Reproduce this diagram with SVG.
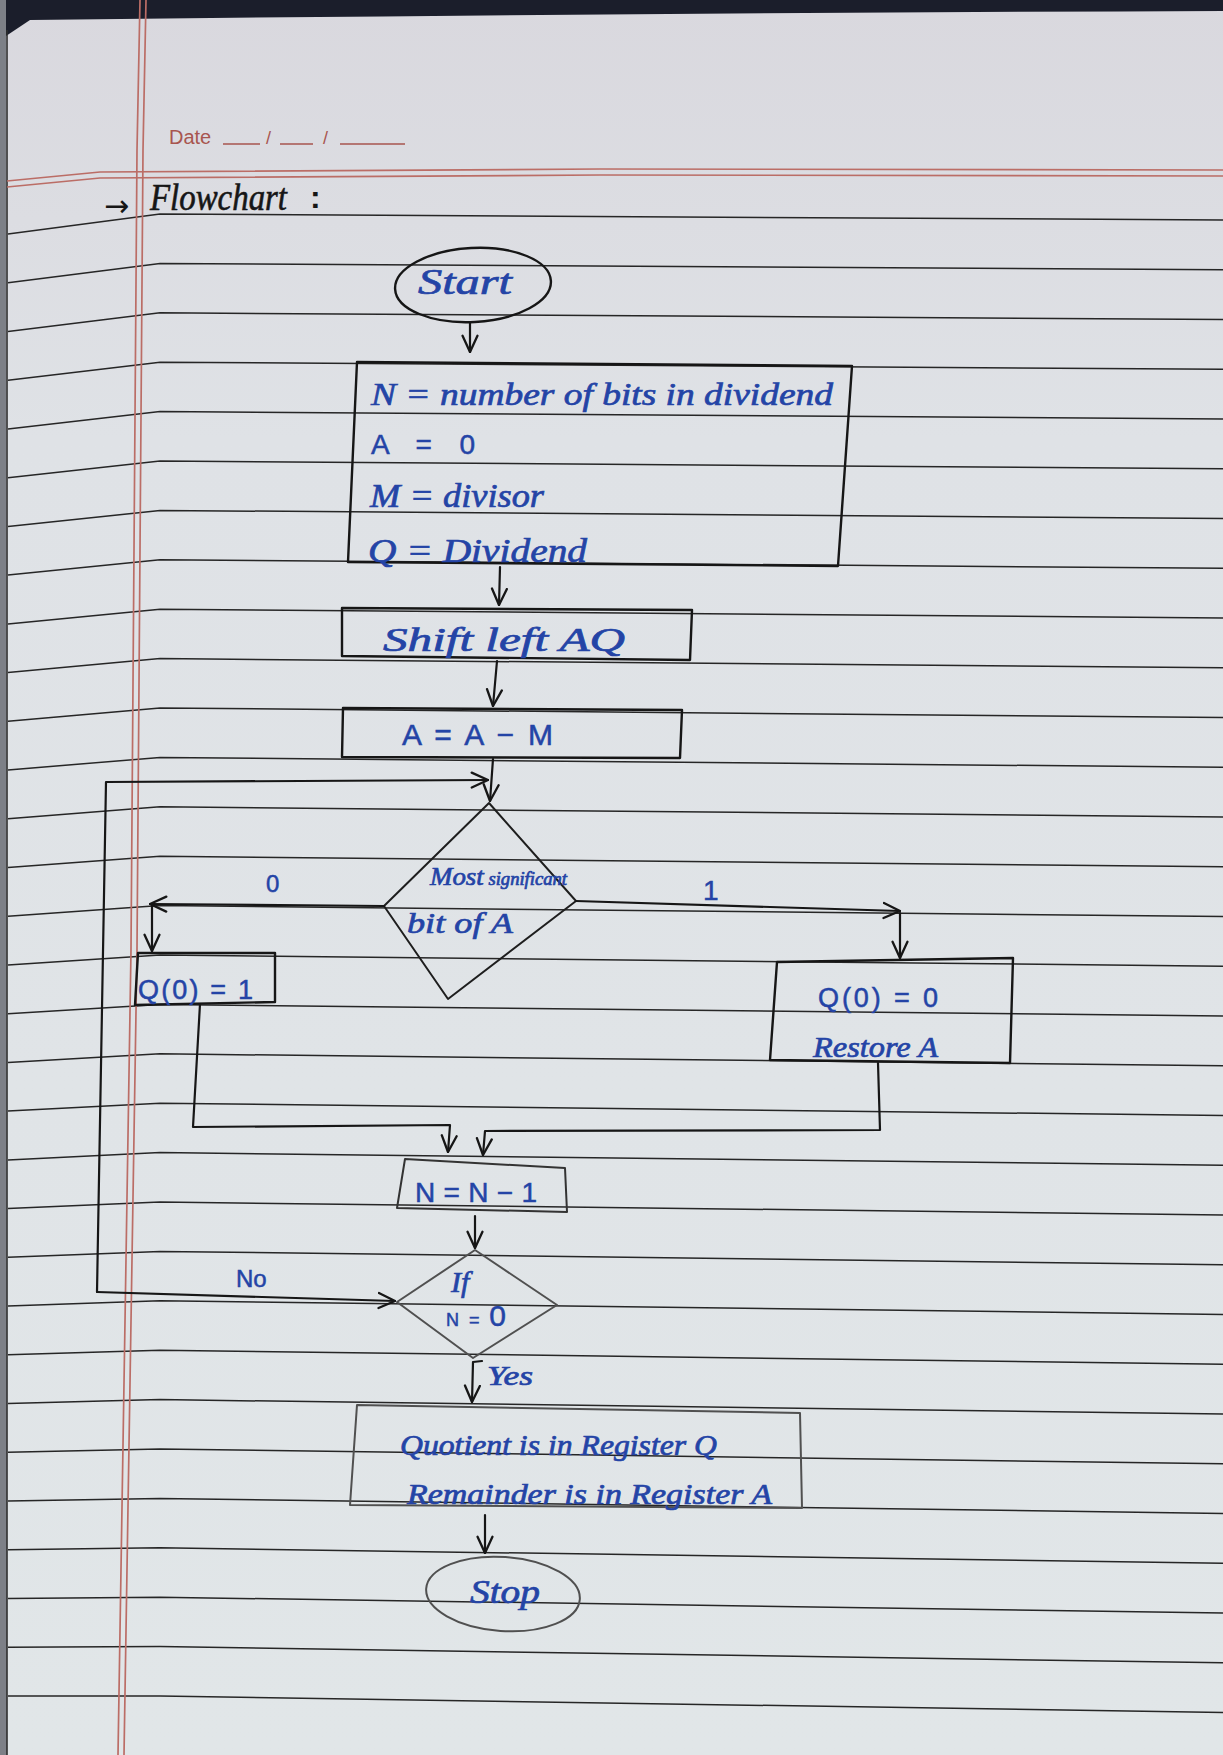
<svg xmlns="http://www.w3.org/2000/svg" width="1223" height="1755" viewBox="0 0 1223 1755">
<defs>
<linearGradient id="paper" x1="0" y1="0" x2="0" y2="1">
<stop offset="0" stop-color="#d9d8de"/>
<stop offset="0.25" stop-color="#dfe2e6"/>
<stop offset="1" stop-color="#e1e6e8"/>
</linearGradient>
<marker id="arr" viewBox="0 0 14 14" refX="13" refY="7" markerWidth="19" markerHeight="19" markerUnits="userSpaceOnUse" orient="auto">
<path d="M1,1.5 L13,7 L1,12.5" fill="none" stroke="#161616" stroke-width="1.7" stroke-linecap="round" stroke-linejoin="round"/>
</marker>
<style>
.rule{stroke:#262626;stroke-width:1.5;fill:none}
.red{stroke:#bb6d66;stroke-width:1.7;fill:none}
.box{fill:none;stroke:#161616;stroke-width:2.4;stroke-linejoin:round}
.pen{fill:none;stroke:#1e1e1e;stroke-width:2;stroke-linejoin:round}
.gbox{fill:none;stroke:#505050;stroke-width:2;stroke-linejoin:round}
.hand{fill:#2444a6;stroke:#2444a6;stroke-width:0.7;font-family:"Liberation Serif",serif;font-style:italic}
.print{fill:#2444a6;stroke:#2444a6;stroke-width:0.5;font-family:"Liberation Sans",sans-serif}
.conn{fill:none;stroke:#161616;stroke-width:2.2;stroke-linejoin:round;stroke-linecap:round}
</style>
</defs>

<!-- paper -->
<rect x="0" y="0" width="1223" height="1755" fill="url(#paper)"/>
<path d="M0,0 H1223 V11 Q620,13 30,20 L0,40 Z" fill="#1b1e2b"/>
<path d="M0,0 H6 L7,1755 H0 Z" fill="#7d8087"/>
<path d="M7,30 L7,1755" stroke="#2e2e2e" stroke-width="1.6"/>

<!-- ruled lines -->
<g id="ruled-lines" class="rule">
<polyline points="8,234 160,214 1223,220"/>
<polyline points="8,282.7 160,263.4 1223,269.8"/>
<polyline points="8,331.5 160,312.8 1223,319.5"/>
<polyline points="8,380.2 160,362.2 1223,369.3"/>
<polyline points="8,428.9 160,411.6 1223,419"/>
<polyline points="8,477.7 160,461 1223,468.8"/>
<polyline points="8,526.4 160,510.4 1223,518.5"/>
<polyline points="8,575.1 160,559.8 1223,568.3"/>
<polyline points="8,623.9 160,609.2 1223,618"/>
<polyline points="8,672.6 160,658.6 1223,667.8"/>
<polyline points="8,721.3 160,708 1223,717.5"/>
<polyline points="8,770 160,757.4 1223,767.3"/>
<polyline points="8,818.8 160,806.8 1223,817"/>
<polyline points="8,867.5 160,856.2 1223,866.8"/>
<polyline points="8,916.2 160,905.6 1223,916.5"/>
<polyline points="8,965 160,955 1223,966.3"/>
<polyline points="8,1013.7 160,1004.4 1223,1016"/>
<polyline points="8,1062.4 160,1053.8 1223,1065.8"/>
<polyline points="8,1111.1 160,1103.2 1223,1115.5"/>
<polyline points="8,1159.9 160,1152.6 1223,1165.3"/>
<polyline points="8,1208.6 160,1202 1223,1215"/>
<polyline points="8,1257.3 160,1251.4 1223,1264.8"/>
<polyline points="8,1306.1 160,1300.8 1223,1314.5"/>
<polyline points="8,1354.8 160,1350.2 1223,1364.3"/>
<polyline points="8,1403.5 160,1399.6 1223,1414"/>
<polyline points="8,1452.3 160,1449 1223,1463.8"/>
<polyline points="8,1501 160,1498.4 1223,1513.5"/>
<polyline points="8,1549.7 160,1547.8 1223,1563.3"/>
<polyline points="8,1598.4 160,1597.2 1223,1613"/>
<polyline points="8,1647.2 160,1646.6 1223,1662.8"/>
<polyline points="8,1696 160,1696 1223,1712.5"/>
</g>

<!-- red margin -->
<g id="margin">
<path class="red" d="M140,0 L137,150 L131,950 L118,1755"/>
<path class="red" d="M146,0 L143,150 L137,950 L124,1755"/>
<polyline class="red" points="7,181 100,172 600,169 1223,170"/>
<polyline class="red" points="7,187 100,178 600,175 1223,176"/>
</g>

<!-- header -->
<g id="header">
<text x="169" y="144" font-family="Liberation Sans, sans-serif" font-size="20" fill="#a8554f">Date</text>
<path d="M223,144 H260 M280,144 H313 M340,144 H405" stroke="#a8554f" stroke-width="1.6"/>
<text x="266" y="144" font-family="Liberation Sans, sans-serif" font-size="18" fill="#a8554f">/</text>
<text x="323" y="144" font-family="Liberation Sans, sans-serif" font-size="18" fill="#a8554f">/</text>
<text x="104" y="216" font-family="DejaVu Sans, sans-serif" font-size="30" fill="#161616">→</text>
<text x="150" y="210" font-family="Liberation Serif, serif" font-style="italic" font-size="38" fill="#161616" stroke="#161616" stroke-width="0.6" textLength="137" lengthAdjust="spacingAndGlyphs">Flowchart</text>
<text x="310" y="208" font-family="Liberation Sans, sans-serif" font-weight="bold" font-size="32" fill="#161616">:</text>
</g>

<!-- nodes -->
<g id="start">
<ellipse cx="473" cy="285" rx="78" ry="37" class="box" transform="rotate(-3 473 285)"/>
<text class="hand" x="418" y="294" font-size="36" textLength="94" lengthAdjust="spacingAndGlyphs">Start</text>
</g>

<g id="init">
<polygon class="box" points="357,362 852,366 838,566 348,562"/>
<text class="hand" x="371" y="405" font-size="32" textLength="462" lengthAdjust="spacingAndGlyphs">N = number of bits in dividend</text>
<text class="print" x="371" y="454" font-size="28" textLength="104">A = 0</text>
<text class="hand" x="370" y="507" font-size="34" textLength="174" lengthAdjust="spacingAndGlyphs">M = divisor</text>
<text class="hand" x="368" y="562" font-size="34" textLength="219" lengthAdjust="spacingAndGlyphs">Q = Dividend</text>
</g>

<g id="shift">
<polygon class="box" points="342,608 692,610 690,660 342,656"/>
<text class="hand" x="383" y="651" font-size="34" textLength="242" lengthAdjust="spacingAndGlyphs">Shift left AQ</text>
</g>

<g id="sub">
<polygon class="box" points="343,708 682,710 680,758 342,757"/>
<text class="print" x="402" y="745" font-size="30" textLength="151">A = A − M</text>
</g>

<g id="msb">
<polygon class="pen" points="489,803 576,901 448,999 384,906"/>
<text class="hand" x="430" y="885" textLength="137" lengthAdjust="spacingAndGlyphs"><tspan font-size="26">Most</tspan><tspan font-size="18"> significant</tspan></text>
<text class="hand" x="407" y="933" font-size="30" textLength="106" lengthAdjust="spacingAndGlyphs">bit of A</text>
</g>

<g id="q1">
<polygon class="box" points="138,953 275,953 275,1002 135,1005"/>
<text class="print" x="138" y="999" font-size="27" textLength="115">Q(0) = 1</text>
</g>

<g id="q0">
<polygon class="box" points="777,962 1013,958 1010,1063 770,1060"/>
<text class="print" x="818" y="1007" font-size="27" textLength="120">Q(0) = 0</text>
<text class="hand" x="813" y="1057" font-size="30" textLength="125" lengthAdjust="spacingAndGlyphs">Restore A</text>
</g>

<g id="dec">
<polygon class="gbox" points="405,1159 565,1168 567,1212 397,1208" style="stroke:#333"/>
<text class="print" x="415" y="1202" font-size="28" textLength="122">N = N − 1</text>
</g>

<g id="check">
<polygon class="gbox" points="475,1250 557,1305 473,1358 397,1302"/>
<text class="hand" x="451" y="1292" font-size="30">If</text>
<text class="print" x="446" y="1326" textLength="60"><tspan font-size="18">N = </tspan><tspan font-size="30">0</tspan></text>
</g>

<g id="result">
<polygon class="gbox" points="357,1405 800,1413 802,1508 350,1505"/>
<text class="hand" x="400" y="1455" font-size="29" textLength="317" lengthAdjust="spacingAndGlyphs">Quotient is in Register Q</text>
<text class="hand" x="407" y="1504" font-size="29" textLength="365" lengthAdjust="spacingAndGlyphs">Remainder is in Register A</text>
</g>

<g id="stop">
<ellipse cx="503" cy="1594" rx="77" ry="37" class="gbox" transform="rotate(4 503 1594)"/>
<text class="hand" x="470" y="1603" font-size="34" textLength="70" lengthAdjust="spacingAndGlyphs">Stop</text>
</g>

<!-- connectors -->
<g id="connectors" class="conn">
<path d="M470,323 L470,352" marker-end="url(#arr)"/>
<path d="M500,567 L499,605" marker-end="url(#arr)"/>
<path d="M497,661 L493,706" marker-end="url(#arr)"/>
<path d="M493,759 L490,801" marker-end="url(#arr)"/>
<path d="M97,1292 L106,782 L488,780" marker-end="url(#arr)"/>
<path d="M97,1292 L395,1301" marker-end="url(#arr)"/>
<path d="M384,906 L150,904" marker-end="url(#arr)"/>
<path d="M152,906 L152,951" marker-end="url(#arr)"/>
<path d="M576,901 L900,911" marker-end="url(#arr)"/>
<path d="M900,913 L900,958" marker-end="url(#arr)"/>
<path d="M200,1004 L193,1127 L450,1125 L448,1152" marker-end="url(#arr)"/>
<path d="M878,1063 L880,1130 L485,1131 L483,1155" marker-end="url(#arr)"/>
<path d="M475,1216 L475,1248" marker-end="url(#arr)"/>
<path d="M482,1361 L473,1362 L472,1402" marker-end="url(#arr)"/>
<path d="M485,1515 L485,1553" marker-end="url(#arr)"/>
</g>

<!-- branch labels -->
<g id="labels">
<text class="print" x="266" y="892" font-size="24">0</text>
<text class="print" x="703" y="900" font-size="28">1</text>
<text class="print" x="236" y="1287" font-size="24">No</text>
<text class="hand" x="487" y="1385" font-size="28" textLength="46" lengthAdjust="spacingAndGlyphs">Yes</text>
</g>
</svg>
